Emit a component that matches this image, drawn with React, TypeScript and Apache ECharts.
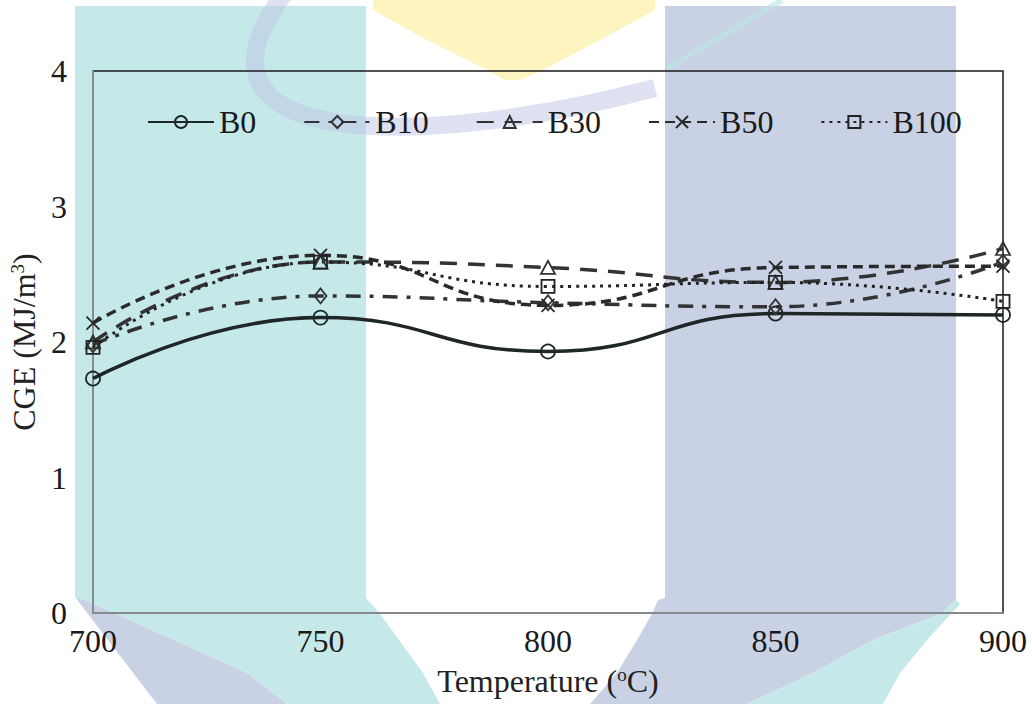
import React, { useEffect, useRef } from "react";
import * as echarts from "echarts";

const temperatures = [700, 750, 800, 850, 900];
const seriesNames = ["B0", "B10", "B30", "B50", "B100"];
const b0 = [1.73, 2.18, 1.93, 2.21, 2.2];
const b10 = [1.98, 2.34, 2.29, 2.26, 2.59];
const b30 = [2.0, 2.59, 2.55, 2.44, 2.69];
const b50 = [2.14, 2.64, 2.27, 2.55, 2.56];
const b100 = [1.96, 2.59, 2.41, 2.44, 2.3];
const yTicks = [0, 1, 2, 3, 4];

const FONT = '"Liberation Serif", "Times New Roman", serif';
const CROSS = "path://M0 0L10 10M10 0L0 10";

function pairs(vals: number[]) {
  return temperatures.map((t, i) => [t, vals[i]]);
}

export default function App() {
  const ref = useRef<HTMLDivElement>(null);
  useEffect(() => {
    if (!ref.current) return;
    const chart = echarts.init(ref.current, undefined, { renderer: "svg" });

    const teal = "#c5e9e8";
    const lav = "#c9d1e4";
    const yel = "#fdf4c0";

    const mk = (
      name: string,
      vals: number[],
      symbol: string,
      size: number | number[],
      dash: any,
      color: string,
      width: number
    ) => ({
      name,
      type: "line",
      data: pairs(vals),
      smooth: 0.5,
      symbol,
      symbolSize: size,
      showSymbol: true,
      lineStyle: { color, width, type: dash, cap: "butt" },
      itemStyle: { color: "rgba(0,0,0,0)", borderColor: color, borderWidth: 1.8 },
      emphasis: { disabled: true },
      z: 3,
    });

    const option: any = {
      animation: false,
      backgroundColor: "#ffffff",
      graphic: [
        {
          type: "polygon",
          z: -10,
          silent: true,
          shape: {
            points: [
              [75, 6], [366, 6], [366, 598], [380, 614], [423, 673], [440, 704],
              [287, 704], [247, 673], [85, 600], [75, 597],
            ],
          },
          style: { fill: teal },
        },
        {
          type: "polygon",
          z: -10,
          silent: true,
          shape: {
            points: [[75, 597], [85, 600], [247, 673], [287, 704], [157, 704]],
          },
          style: { fill: lav },
        },
        {
          type: "polygon",
          z: -10,
          silent: true,
          shape: {
            points: [
              [665, 6], [956, 6], [956, 600], [940, 614], [873, 640], [813, 673],
              [747, 704], [590, 704], [617, 673], [637, 640], [652, 614], [658, 600], [665, 598],
            ],
          },
          style: { fill: lav },
        },
        {
          type: "polygon",
          z: -10,
          silent: true,
          shape: {
            points: [
              [956, 600], [960, 604], [927, 640], [900, 673], [883, 704],
              [747, 704], [813, 673], [873, 640], [940, 614],
            ],
          },
          style: { fill: teal },
        },
        {
          type: "polygon",
          z: -10,
          silent: true,
          shape: {
            points: [
              [373, 0], [655, 0], [655, 10], [600, 40], [543, 70], [520, 80],
              [505, 80], [487, 70], [427, 40], [373, 10],
            ],
          },
          style: { fill: yel },
        },
        {
          type: "bezierCurve",
          z: -9,
          silent: true,
          shape: { x1: 283, y1: -5, cpx1: 170, cpy1: 150, cpx2: 420, cpy2: 150, x2: 655, y2: 88 },
          style: { stroke: "rgba(190,196,228,0.5)", lineWidth: 18, fill: null },
        },
        {
          type: "line",
          z: -9,
          silent: true,
          shape: { x1: 782, y1: 0, x2: 668, y2: 68 },
          style: { stroke: "rgba(185,232,226,0.6)", lineWidth: 6 },
        },
      ],
      grid: {
        left: 93,
        right: 29,
        top: 71,
        bottom: 91,
        show: true,
        backgroundColor: "rgba(0,0,0,0)",
        borderColor: "#1a1a1a",
        borderWidth: 1.5,
      },
      legend: {
        data: seriesNames,
        left: 142,
        top: 101,
        itemWidth: 66,
        itemHeight: 15,
        itemGap: 47,
        textStyle: { fontFamily: FONT, fontSize: 32, color: "#1a1a1a" },
      },
      xAxis: {
        type: "value",
        min: 700,
        max: 900,
        interval: 50,
        name: "Temperature ({sup|o}C)",
        nameLocation: "middle",
        nameGap: 52,
        nameTextStyle: {
          fontFamily: FONT,
          fontSize: 32,
          color: "#222",
          rich: { sup: { fontFamily: FONT, fontSize: 19, color: "#222", verticalAlign: "top" } },
        },
        axisLine: { show: true, lineStyle: { color: "#858b8b", width: 2 } },
        axisTick: { show: false },
        splitLine: { show: false },
        axisLabel: { fontFamily: FONT, fontSize: 32, color: "#1a1a1a", margin: 12 },
      },
      yAxis: {
        type: "value",
        min: yTicks[0],
        max: yTicks[yTicks.length - 1],
        interval: 1,
        name: "CGE (MJ/m{sup|3})",
        nameLocation: "middle",
        nameGap: 52,
        nameTextStyle: {
          fontFamily: FONT,
          fontSize: 32,
          color: "#222",
          rich: { sup: { fontFamily: FONT, fontSize: 19, color: "#222", verticalAlign: "top" } },
        },
        axisLine: { show: true, lineStyle: { color: "#858b8b", width: 2 } },
        axisTick: { show: false },
        splitLine: { show: false },
        axisLabel: { fontFamily: FONT, fontSize: 32, color: "#1a1a1a", margin: 26 },
      },
      series: [
        mk("B0", b0, "circle", 14, "solid", "#1e2626", 3.5),
        mk("B10", b10, "diamond", [12, 15], [15, 9, 4, 9], "#333333", 3.5),
        mk("B30", b30, "triangle", [14, 13], [17, 11], "#333333", 3.5),
        mk("B50", b50, CROSS, 13, [10, 6], "#2a2a2a", 3.5),
        mk("B100", b100, "rect", 13, [3, 5], "#222222", 3),
      ],
    };
    chart.setOption(option);
    return () => chart.dispose();
  }, []);
  return (
    <div
      ref={ref}
      style={{ position: "fixed", left: 0, top: 0, width: 1032, height: 704 }}
    />
  );
}
